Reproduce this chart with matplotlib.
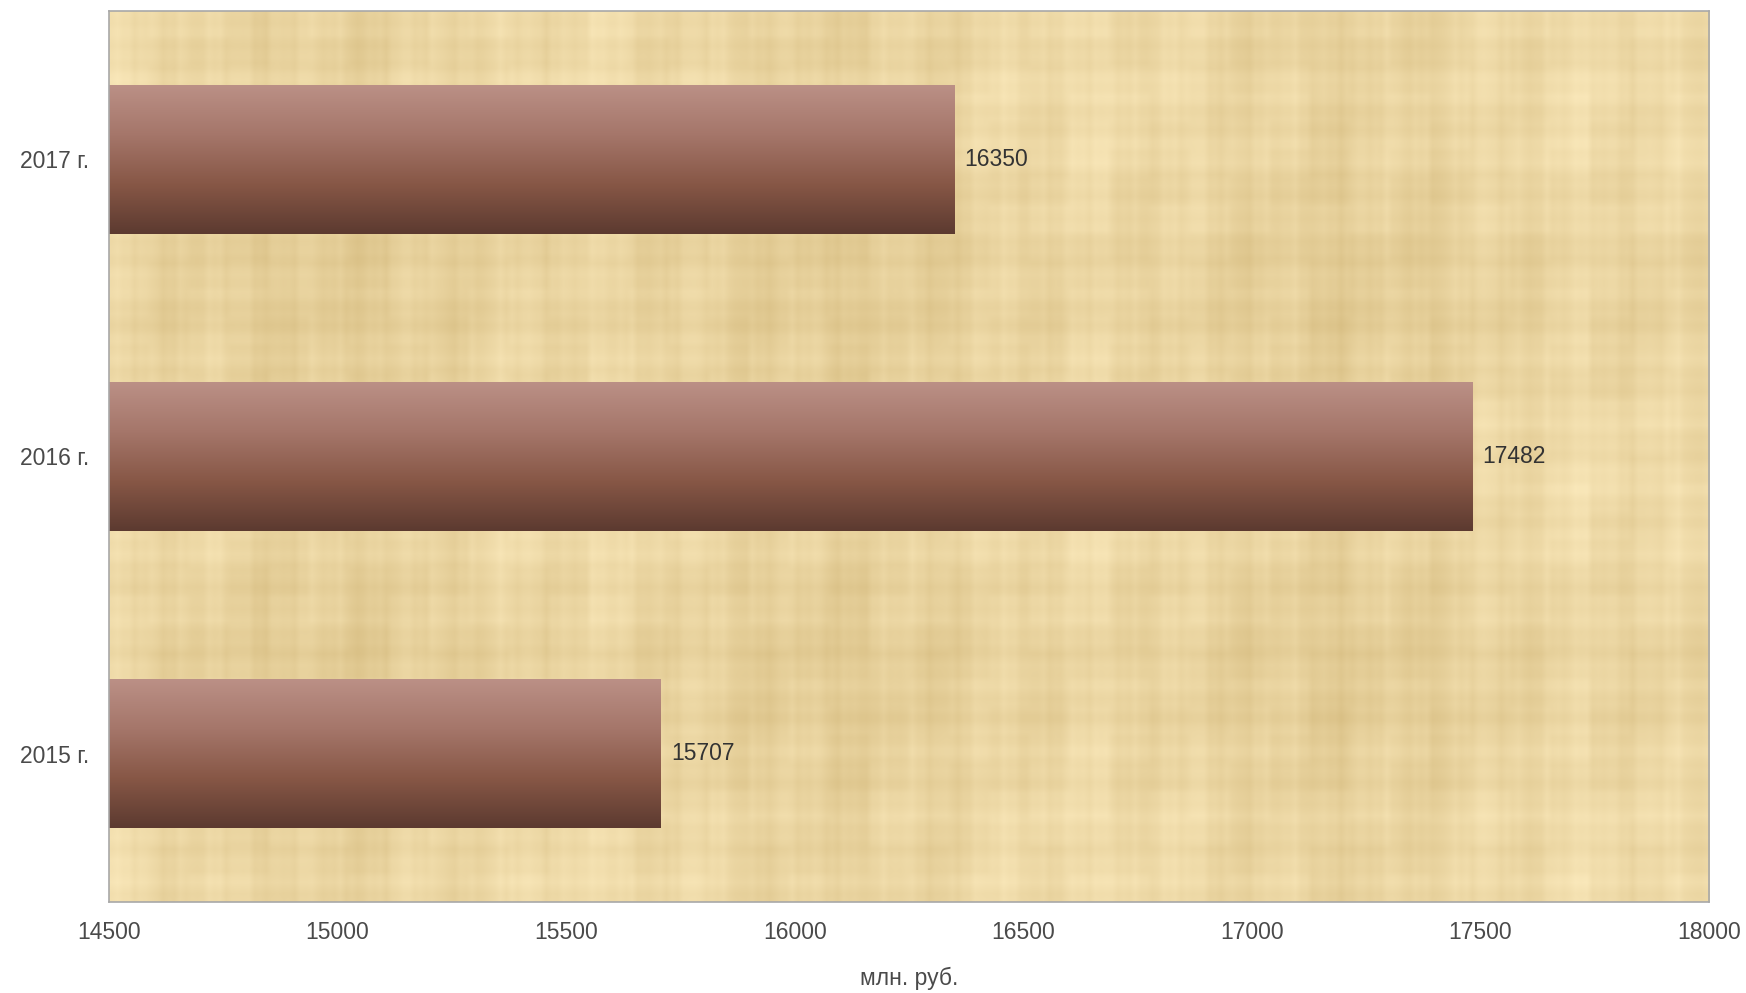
import numpy as np
import matplotlib
matplotlib.use("Agg")
import matplotlib.pyplot as plt
from matplotlib.colors import LinearSegmentedColormap

categories = ["2015 г.", "2016 г.", "2017 г."]
values = [15707, 17482, 16350]
x_ticks = [14500, 15000, 15500, 16000, 16500, 17000, 17500, 18000]
x_label = "млн. руб."

plt.rcParams['font.family'] = ['Liberation Sans', 'DejaVu Sans']

fig = plt.figure(figsize=(17.46, 9.93), dpi=100)
ax = fig.add_axes([0.0624, 0.0916, 0.9164, 0.8974])

ax.set_xlim(14500, 18000)
ax.set_ylim(-0.5, len(categories) - 0.5)

# papyrus-like background texture (deterministic streaks)
H, W = 160, 280
yy = np.arange(H)[:, None]
xx = np.arange(W)[None, :]
col = (np.sin(xx * 0.37 + 1.0) * 0.5 + np.sin(xx * 1.13 + 0.3) * 0.35 + np.sin(xx * 2.71) * 0.25
       + np.sin(xx * 0.071 + 2.0) * 0.6)
row = (np.sin(yy * 0.53 + 0.7) * 0.4 + np.sin(yy * 1.61 + 1.9) * 0.3 + np.sin(yy * 0.093) * 0.5)
blk = np.sin((xx // 7) * 1.7 + (yy // 5) * 0.9) * 0.35
t = col + row + blk
t = (t - t.min()) / (t.max() - t.min())
c_dark = np.array([0.85, 0.75, 0.52])
c_light = np.array([0.98, 0.91, 0.73])
tex = c_dark[None, None, :] * (1 - t[..., None]) + c_light[None, None, :] * t[..., None]
xl = ax.get_xlim()
yl = ax.get_ylim()
ax.imshow(tex, extent=[xl[0], xl[1], yl[0], yl[1]], aspect='auto',
          interpolation='bilinear', zorder=0)

# gradient bars
cmap = LinearSegmentedColormap.from_list(
    "bar", ["#5c3a30", "#875746", "#a5766a", "#bb9086"])
grad = np.linspace(0, 1, 256)[:, None]
bh = 0.5
for i, v in enumerate(values):
    ax.imshow(grad, extent=[xl[0], v, i - bh / 2, i + bh / 2], aspect='auto',
              cmap=cmap, origin='lower', interpolation='bilinear', zorder=2)
    ax.text(v + 22, i, str(v), va='center', ha='left', fontsize=16.5,
            color='#333333', zorder=3)

ax.set_xlim(xl)
ax.set_ylim(yl)
ax.set_yticks(range(len(categories)))
ax.set_yticklabels(categories)
ax.set_xticks(x_ticks)
ax.set_xticklabels([str(x) for x in x_ticks])
ax.tick_params(axis='both', length=0, labelsize=16.5, labelcolor='#4a4a4a')
ax.tick_params(axis='x', pad=14)
ax.tick_params(axis='y', pad=14.5)
ax.set_xlabel(x_label, fontsize=16.5, color='#4a4a4a', labelpad=16)
for s in ax.spines.values():
    s.set_color('#a8a8a8')
    s.set_linewidth(1.2)

fig.savefig("out.png", dpi=100)
